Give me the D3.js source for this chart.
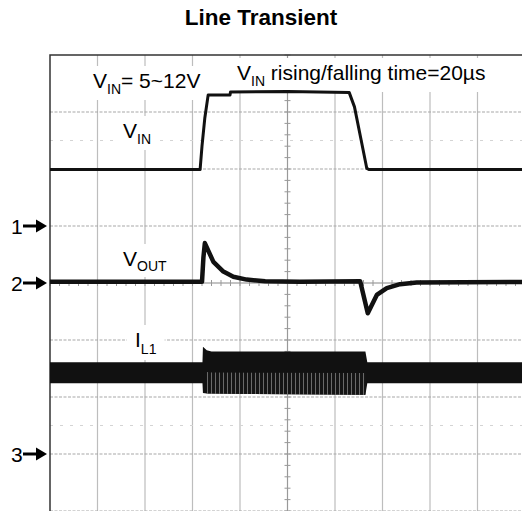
<!DOCTYPE html>
<html>
<head>
<meta charset="utf-8">
<script src="https://cdn.jsdelivr.net/npm/d3@7/dist/d3.min.js"></script>
<style>
  html, body { margin: 0; padding: 0; background: #fff; }
  svg { display: block; }
</style>
</head>
<body>
<svg id="chart" width="522" height="511"></svg>
<script>
// ---- data (time in divisions, amplitude in divisions from screen centre) ----
const title = "Line Transient";

// VIN trace
const vinTime  = [0, 3.16, 3.20, 3.26, 3.33, 3.79, 3.80, 5.00, 6.30, 6.41, 6.55, 6.67, 6.72, 10];
const vinValue = [1.99, 1.99, 2.40, 2.90, 3.30, 3.30, 3.35, 3.36, 3.34, 3.09, 2.51, 2.01, 1.99, 1.99];

// VOUT trace
const voutTime  = [0, 3.20, 3.23, 3.26, 3.44, 3.65, 3.86, 4.14, 4.53, 5.26, 6.53, 6.69, 6.88, 7.09, 7.37, 7.72, 10];
const voutValue = [0.02, 0.02, 0.45, 0.70, 0.37, 0.20, 0.11, 0.06, 0.03, 0.02, 0.03, -0.53, -0.21, -0.09, -0.02, 0.01, 0.02];

// IL1 ripple envelope
const ilTime   = [0, 3.21, 3.22, 3.30, 3.40, 6.64, 6.68, 10];
const ilTop    = [-1.39, -1.39, -1.12, -1.18, -1.20, -1.20, -1.39, -1.39];
const ilBottom = [-1.76, -1.76, -1.93, -1.94, -1.94, -1.96, -1.76, -1.76];

// channel markers (division level)
const markerLabels = ["1", "2", "3"];
const markerLevels = [1, 0, -3];

// grid divisions
const xDivs = d3.range(0, 11);
const yDivs = d3.range(-4, 5);
const refLevels = [2.5, -2.5];

// ---- layout ----
const svg = d3.select("#chart");
const L = 50, T = 55, W = 475, H = 456;
const x = d3.scaleLinear().domain([0, 10]).range([L, L + W]);
const y = d3.scaleLinear().domain([4, -4]).range([T, T + H]);
const font = "'Liberation Sans', Arial, Helvetica, sans-serif";

svg.append("text")
  .attr("x", 261).attr("y", 25)
  .attr("text-anchor", "middle")
  .attr("font-family", font).attr("font-weight", "bold").attr("font-size", 22.5)
  .text(title);

const grid = svg.append("g");
grid.selectAll("line.v").data(xDivs.filter(d => d > 0)).join("line")
  .attr("x1", d => x(d)).attr("x2", d => x(d))
  .attr("y1", T).attr("y2", T + H)
  .attr("stroke", d => d === 5 ? "#999" : "#bdbdbd")
  .attr("stroke-width", 1.2);
grid.selectAll("line.h").data(yDivs.filter(d => d < 4)).join("line")
  .attr("x1", L).attr("x2", L + W)
  .attr("y1", d => y(d)).attr("y2", d => y(d))
  .attr("stroke", d => d === 0 ? "#888" : "#a8a8a8")
  .attr("stroke-width", 1.2)
  .attr("stroke-dasharray", d => d === 0 ? null : "3,1.5");
grid.selectAll("line.r").data(refLevels).join("line")
  .attr("x1", L).attr("x2", L + W)
  .attr("y1", d => y(d)).attr("y2", d => y(d))
  .attr("stroke", "#d4d4d4").attr("stroke-width", 1.2)
  .attr("stroke-dasharray", "3,7");
const minor = d3.range(-4, 4.01, 0.2);
grid.selectAll("line.mt").data(minor).join("line")
  .attr("x1", x(5) - 3).attr("x2", x(5) + 3)
  .attr("y1", d => y(d)).attr("y2", d => y(d))
  .attr("stroke", "#999").attr("stroke-width", 1);
grid.selectAll("line.mx").data(d3.range(0, 10.01, 0.2)).join("line")
  .attr("x1", d => x(d)).attr("x2", d => x(d))
  .attr("y1", y(0) - 3).attr("y2", y(0) + 3)
  .attr("stroke", "#999").attr("stroke-width", 1);

svg.append("path")
  .attr("d", `M${L},${T + H}V${T}H${L + W}`)
  .attr("fill", "none").attr("stroke", "#333").attr("stroke-width", 1.5);

// ---- labels with white backgrounds ----
function label(px, py, main, sub, rest, subDy) {
  const g = svg.append("g");
  const t = g.append("text")
    .attr("x", px).attr("y", py)
    .attr("font-family", font).attr("font-size", 21).attr("fill", "#000");
  t.append("tspan").text(main);
  t.append("tspan").attr("font-size", 14).attr("dy", subDy).text(sub);
  if (rest) t.append("tspan").attr("dy", -subDy).text(rest);
  const b = t.node().getBBox();
  g.insert("rect", "text")
    .attr("x", b.x - 8).attr("y", b.y - 3)
    .attr("width", b.width + 16).attr("height", b.height + 6)
    .attr("fill", "#fff");
}

// ---- traces ----
const lineGen = d3.line().x(d => x(d[0])).y(d => y(d[1]));
const ilArea = d3.area().x(d => x(d[0])).y0(d => y(d[1])).y1(d => y(d[2]));

const defs = svg.append("defs");
const pat = defs.append("pattern").attr("id", "ripple")
  .attr("width", 4).attr("height", 10).attr("patternUnits", "userSpaceOnUse");
pat.append("rect").attr("width", 4).attr("height", 10).attr("fill", "#151515");
pat.append("rect").attr("x", 3).attr("width", 1).attr("height", 10).attr("fill", "#6a6a6a");

label(93, 88, "V", "IN", "= 5~12V", 6);
label(237, 80, "V", "IN", " rising/falling time=20\u00b5s", 6);
label(123, 138, "V", "IN", null, 6);
label(123, 266, "V", "OUT", null, 5);
label(135, 347, "I", "L1", null, 7);

svg.append("path")
  .datum(vinTime.map((t, i) => [t, vinValue[i]]))
  .attr("d", lineGen)
  .attr("fill", "none").attr("stroke", "#111").attr("stroke-width", 3)
  .attr("stroke-linejoin", "round");

svg.append("path")
  .datum(voutTime.map((t, i) => [t, voutValue[i]]))
  .attr("d", lineGen)
  .attr("fill", "none").attr("stroke", "#111").attr("stroke-width", 4.5)
  .attr("stroke-linejoin", "round");

const ilData = ilTime.map((t, i) => [t, ilTop[i], ilBottom[i]]);
svg.append("path").datum(ilData).attr("d", ilArea).attr("fill", "#111");
svg.append("path")
  .datum(ilData.filter(d => d[0] >= 3.25 && d[0] <= 6.64))
  .attr("d", d3.area().x(d => x(d[0])).y0(d => (y(d[1]) + y(d[2])) / 2).y1(d => y(d[2])))
  .attr("fill", "url(#ripple)");

// ---- channel markers ----
const mk = svg.append("g");
markerLabels.forEach((m, i) => {
  const yy = y(markerLevels[i]);
  mk.append("text").attr("x", 11).attr("y", yy + 7.5)
    .attr("font-family", font).attr("font-size", 21).text(m);
  mk.append("line").attr("x1", 23).attr("x2", 38).attr("y1", yy).attr("y2", yy)
    .attr("stroke", "#000").attr("stroke-width", 3);
  mk.append("path")
    .attr("d", `M36,${yy - 6.5}L47,${yy}L36,${yy + 6.5}Z`).attr("fill", "#000");
});
</script>
</body>
</html>
